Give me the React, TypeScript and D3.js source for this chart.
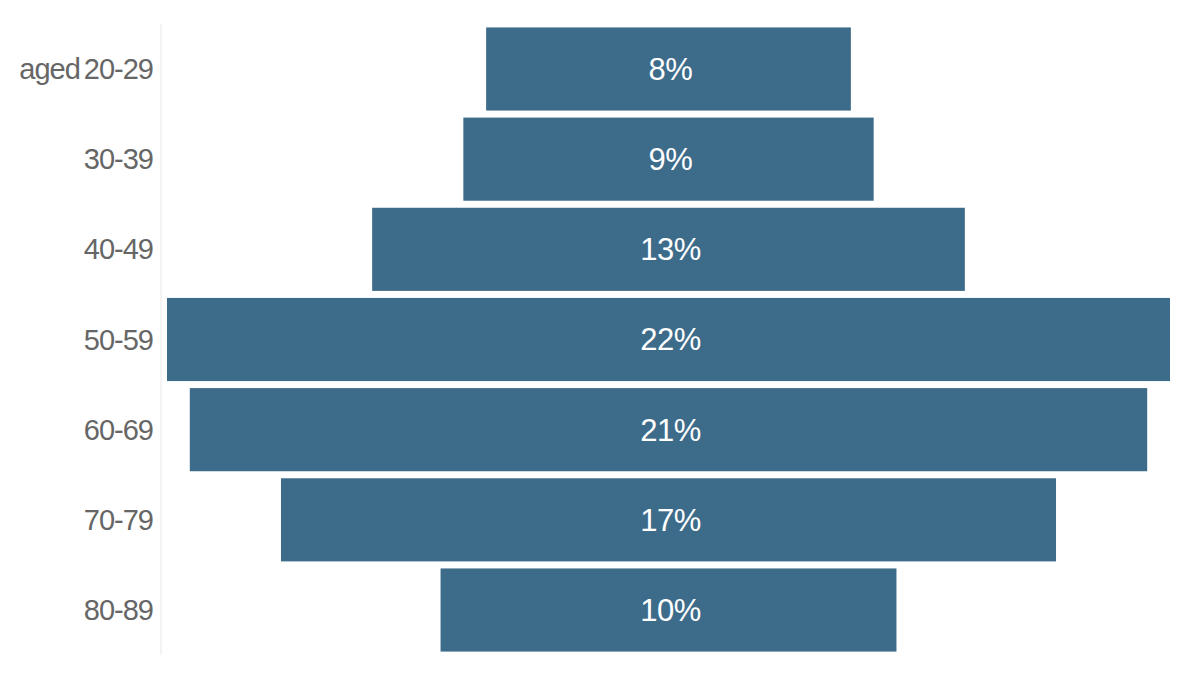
import { useRef, useEffect } from 'react';
import * as d3 from 'd3';

const ageGroups = ['aged 20-29', '30-39', '40-49', '50-59', '60-69', '70-79', '80-89'];
const shares = [8, 9, 13, 22, 21, 17, 10];

const BAR = '#3d6b8a';
const FONT = '"Liberation Sans", Helvetica, Arial, sans-serif';

export default function App() {
  const svgRef = useRef<SVGSVGElement>(null);

  useEffect(() => {
    if (!svgRef.current) return;
    const width = 1200;
    const height = 675;
    const left = 161;
    const right = 1176;
    const center = (left + right) / 2;

    const svg = d3.select(svgRef.current);
    svg.selectAll('*').remove();

    const data = ageGroups.map((g, i) => ({ group: g, value: shares[i] }));

    const y = d3.scaleBand().domain(ageGroups).range([24, 655]).paddingInner(0.078).paddingOuter(0.038);
    const w = d3.scaleLinear().domain([0, d3.max(shares) || 1]).range([0, 1003]);

    // left axis line
    svg.append('line')
      .attr('x1', left).attr('x2', left)
      .attr('y1', 24).attr('y2', 655)
      .attr('stroke', '#e8e8e8').attr('stroke-width', 1);

    // bars centered on the middle of the plot
    svg.selectAll('.bar')
      .data(data)
      .join('rect')
      .attr('x', d => center - w(d.value) / 2)
      .attr('y', d => y(d.group)!)
      .attr('width', d => w(d.value))
      .attr('height', y.bandwidth())
      .attr('fill', BAR);

    // value labels
    svg.selectAll('.val')
      .data(data)
      .join('text')
      .attr('x', center + 2)
      .attr('y', d => y(d.group)! + y.bandwidth() / 2)
      .attr('dy', '0.35em')
      .attr('text-anchor', 'middle')
      .attr('fill', '#ffffff')
      .attr('font-size', 31)
      .attr('letter-spacing', -0.5)
      .attr('font-family', FONT)
      .text(d => `${d.value}%`);

    // category labels
    svg.selectAll('.cat')
      .data(data)
      .join('text')
      .attr('x', 153)
      .attr('y', d => y(d.group)! + y.bandwidth() / 2)
      .attr('dy', '0.35em')
      .attr('text-anchor', 'end')
      .attr('fill', '#666666')
      .attr('font-size', 29)
      .attr('letter-spacing', -1)
      .attr('word-spacing', -3)
      .attr('font-family', FONT)
      .text(d => d.group);

    svg.attr('viewBox', `0 0 ${width} ${height}`);
  }, []);

  return (
    <svg ref={svgRef} width={1200} height={675} style={{ position: 'absolute', left: 0, top: 0, background: '#fff' }} />
  );
}
